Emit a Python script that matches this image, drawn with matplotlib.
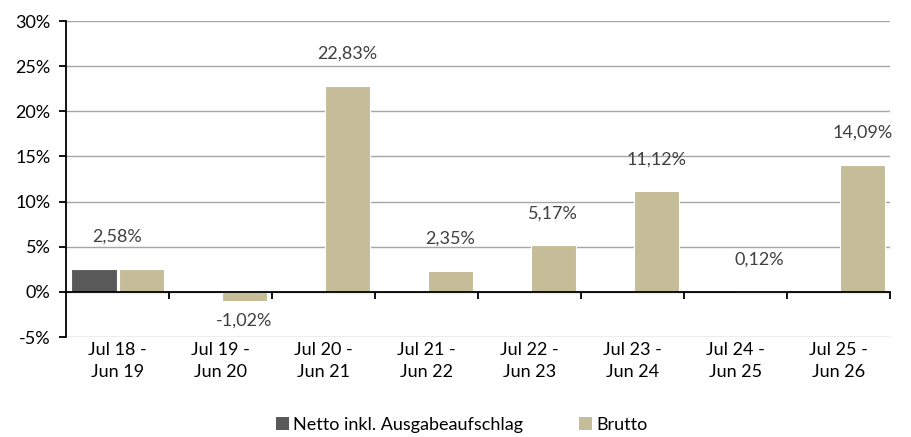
import matplotlib
matplotlib.use("Agg")
import matplotlib.pyplot as plt
import numpy as np
from matplotlib.patches import Patch

categories = ["Jul 18 -\nJun 19", "Jul 19 -\nJun 20", "Jul 20 -\nJun 21", "Jul 21 -\nJun 22",
              "Jul 22 -\nJun 23", "Jul 23 -\nJun 24", "Jul 24 -\nJun 25", "Jul 25 -\nJun 26"]
netto = [2.58, np.nan, np.nan, np.nan, np.nan, np.nan, np.nan, np.nan]
brutto = [2.58, -1.02, 22.83, 2.35, 5.17, 11.12, 0.12, 14.09]
labels = ["2,58%", "-1,02%", "22,83%", "2,35%", "5,17%", "11,12%", "0,12%", "14,09%"]
yticks = [-5, 0, 5, 10, 15, 20, 25, 30]

plt.rcParams['font.family'] = ['Lato', 'DejaVu Sans']

fig = plt.figure(figsize=(9.11, 4.37), dpi=100)
ax = fig.add_axes([66/911, 1-337/437, (890-66)/911, (337-21)/437])

n = len(categories)
x = np.arange(n) + 0.5
w = 0.443
c_net = "#595959"
c_bru = "#C4BD97"
fs = 13

ax.bar(x - 0.228, netto, width=w, color=c_net, edgecolor="white", linewidth=0.8, zorder=3)
ax.bar(x + 0.232, brutto, width=w, color=c_bru, edgecolor="white", linewidth=0.8, zorder=3)

for i, (v, lab) in enumerate(zip(brutto, labels)):
    xi = x[i] if i == 0 else x[i] + 0.232
    if v >= 0:
        ax.annotate(lab, (xi, v), xytext=(0, 17), textcoords="offset points",
                    ha="center", va="bottom", fontsize=fs, color="#404040")
    else:
        ax.annotate(lab, (xi, v), xytext=(0, -8), textcoords="offset points",
                    ha="center", va="top", fontsize=fs, color="#404040")

ax.set_xlim(0, n)
ax.set_ylim(-5, 30)
ax.set_yticks(yticks)
ax.set_yticklabels([f"{t}%" for t in yticks], fontsize=fs, color="#000000")
for t in yticks:
    ax.axhline(t, color="#A6A6A6", linewidth=1.0, zorder=1)

ax.spines['top'].set_visible(False)
ax.spines['right'].set_visible(False)
ax.spines['left'].set_color("black")
ax.spines['left'].set_linewidth(1.3)
ax.spines['bottom'].set_position(('data', 0))
ax.spines['bottom'].set_color("black")
ax.spines['bottom'].set_linewidth(1.3)
ax.spines['bottom'].set_zorder(4)

ax.set_xticks(np.arange(1, n + 1))
ax.set_xticklabels([])
ax.tick_params(axis='x', which='major', direction='out', length=5, width=1.3, color="black")
ax.set_xticks(x, minor=True)
ax.set_xticklabels(categories, minor=True, fontsize=fs, linespacing=1.45)
ax.tick_params(axis='x', which='minor', length=0, pad=36)
ax.tick_params(axis='y', direction='out', length=5, width=1.3, color="black", pad=6)

handles = [Patch(facecolor=c_net, label="Netto inkl. Ausgabeaufschlag"),
           Patch(facecolor=c_bru, label="Brutto")]
fig.legend(handles=handles, loc="center", bbox_to_anchor=(462/911, 1-425/437), ncol=2,
           frameon=False, fontsize=fs, handlelength=0.7, handleheight=0.7,
           handletextpad=0.25, columnspacing=3.1)

fig.savefig("out.png", dpi=100)
